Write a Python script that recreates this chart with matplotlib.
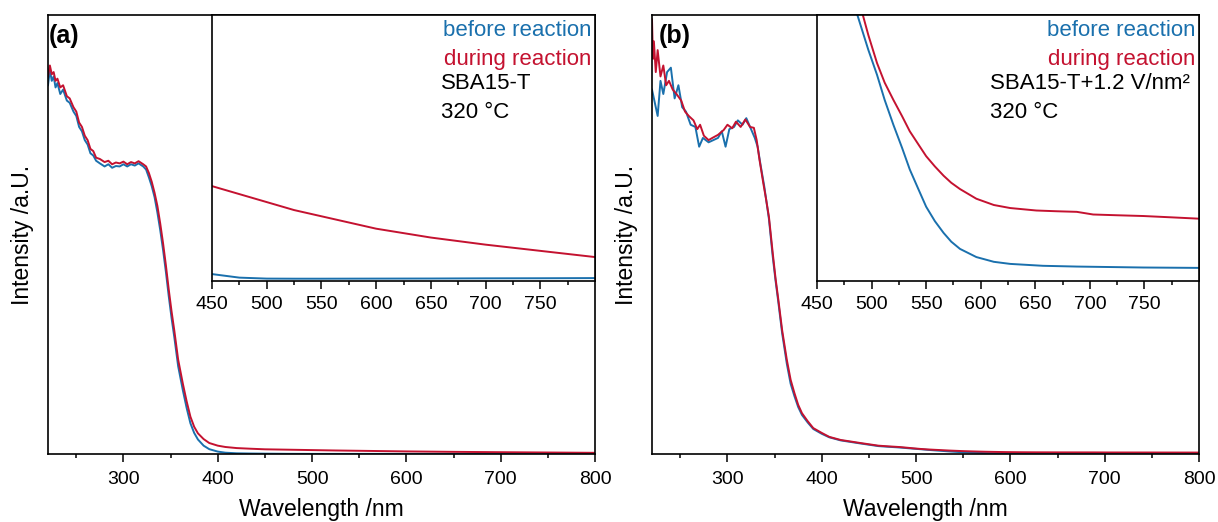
import matplotlib
matplotlib.use("Agg")
import matplotlib.pyplot as plt

plt.rcParams['font.family'] = ['Liberation Sans', 'DejaVu Sans']

# colours of the two spectra
c_before = '#1a70ad'
c_during = '#c41230'

# panel (a): SBA15-T, intensity normalised to the main axis height
wl_a = [220, 222, 224, 226, 228, 230, 233, 236, 240, 243, 247, 250, 253, 256, 259, 262,
        265, 268, 271, 275, 280, 284, 288, 292, 296, 300, 304, 308, 312, 316, 321, 324,
        327, 330, 333, 336, 339, 342, 345, 348, 351, 354, 358, 363, 367, 371, 375, 379,
        385, 391, 400, 408, 420, 435, 450, 475, 500, 525, 550, 600, 650, 700, 750, 800]
a_during = [0.86, 0.885, 0.865, 0.87, 0.85, 0.855, 0.835, 0.84, 0.815, 0.81, 0.79, 0.78,
            0.755, 0.745, 0.725, 0.715, 0.695, 0.69, 0.675, 0.672, 0.665, 0.668, 0.66, 0.664,
            0.662, 0.666, 0.66, 0.665, 0.662, 0.667, 0.66, 0.655, 0.64, 0.62, 0.595, 0.565,
            0.525, 0.48, 0.43, 0.375, 0.325, 0.28, 0.215, 0.16, 0.12, 0.085, 0.062, 0.047,
            0.034, 0.025, 0.019, 0.016, 0.0135, 0.012, 0.0107, 0.0098, 0.0089, 0.0080,
            0.0073, 0.0059, 0.0049, 0.0041, 0.0034, 0.0027]
a_before = [0.84, 0.875, 0.85, 0.86, 0.835, 0.845, 0.82, 0.83, 0.805, 0.80, 0.78, 0.77,
            0.745, 0.735, 0.715, 0.705, 0.685, 0.68, 0.668, 0.662, 0.655, 0.66, 0.652, 0.656,
            0.655, 0.66, 0.655, 0.66, 0.657, 0.662, 0.655, 0.648, 0.63, 0.61, 0.585, 0.55,
            0.51, 0.465, 0.415, 0.36, 0.31, 0.265, 0.20, 0.145, 0.105, 0.07, 0.048, 0.033,
            0.019, 0.011, 0.0055, 0.003, 0.0016, 0.0011, 0.00078, 0.00038, 0.00027, 0.00026,
            0.00026, 0.00027, 0.00028, 0.0003, 0.00031, 0.00033]

# panel (b): SBA15-T+1.2 V/nm2
wl_b_during = [220, 221, 222, 224, 226, 229, 232, 235, 238, 242, 246, 251, 255, 259, 264,
               268, 271, 275, 280, 284, 290, 296, 300, 305, 309, 314, 319, 324, 328, 331,
               334, 338, 341, 344, 348, 351, 354, 358, 363, 367, 371, 375, 379, 385, 391,
               400, 408, 420, 441, 460, 470, 483, 492, 497, 505, 512, 520, 528, 535, 543,
               550, 558, 566, 573, 581, 596, 612, 627, 651, 670, 688, 703, 725, 749, 775, 800]
b_during = [0.99, 0.90, 0.94, 0.87, 0.92, 0.86, 0.885, 0.84, 0.85, 0.83, 0.82, 0.805, 0.78,
            0.77, 0.76, 0.74, 0.75, 0.725, 0.715, 0.72, 0.727, 0.738, 0.75, 0.742, 0.757,
            0.745, 0.762, 0.745, 0.743, 0.715, 0.67, 0.617, 0.58, 0.54, 0.458, 0.40, 0.351,
            0.282, 0.214, 0.169, 0.139, 0.112, 0.093, 0.075, 0.059, 0.048, 0.039, 0.032,
            0.025, 0.019, 0.0175, 0.0158, 0.0140, 0.01295, 0.01147, 0.01044, 0.00953,
            0.00867, 0.00788, 0.00718, 0.00657, 0.00603, 0.00554, 0.00517, 0.00484, 0.00433,
            0.0040, 0.00384, 0.00371, 0.00367, 0.00364, 0.0035, 0.00346, 0.00342, 0.00335,
            0.00328]
wl_b_before = [220, 223, 226, 229, 232, 236, 240, 244, 248, 252, 256, 261, 266, 270, 274,
               280, 285, 290, 294, 298, 302, 307, 311, 316, 320, 325, 329, 332, 335, 339,
               344, 348, 351, 354, 358, 363, 367, 371, 375, 379, 385, 391, 400, 408, 420,
               441, 460, 470, 480, 487, 497, 505, 512, 520, 528, 535, 543, 550, 558, 566,
               573, 581, 596, 612, 627, 657, 688, 749, 800]
b_before = [0.83, 0.80, 0.77, 0.85, 0.82, 0.87, 0.88, 0.81, 0.84, 0.79, 0.78, 0.75, 0.745,
            0.70, 0.72, 0.71, 0.715, 0.72, 0.735, 0.70, 0.74, 0.745, 0.76, 0.75, 0.765, 0.74,
            0.72, 0.70, 0.66, 0.61, 0.535, 0.45, 0.395, 0.345, 0.275, 0.205, 0.16, 0.132,
            0.107, 0.089, 0.072, 0.057, 0.046, 0.038, 0.031, 0.024, 0.018, 0.0165, 0.0152,
            0.0140, 0.01217, 0.01085, 0.00953, 0.00822, 0.0070, 0.00587, 0.00482, 0.00391,
            0.00315, 0.00253, 0.00207, 0.00169, 0.00126, 0.00101, 0.0009, 0.0008, 0.00076,
            0.00071, 0.00069]

main_ticks = [300, 400, 500, 600, 700, 800]
inset_ticks = [450, 500, 550, 600, 650, 700, 750]

W, H = 1218, 522
fig = plt.figure(figsize=(W / 100, H / 100), dpi=100)


def box(l, t, r, b):
    # pixel box -> figure fraction
    return [l / W, 1 - b / H, (r - l) / W, (b - t) / H]


def style(ax, fs, pad):
    for s in ax.spines.values():
        s.set_linewidth(1.2)
    ax.set_yticks([])
    ax.tick_params(axis='x', which='major', direction='out', length=5.5, width=1.1,
                   labelsize=fs, pad=pad)
    ax.tick_params(axis='x', which='minor', direction='out', length=3, width=1.1)


panels = [
    ('(a)', (48, 15, 595, 454), (212, 15, 595, 281), wl_a, a_before, wl_a, a_during,
     0.03, 'SBA15-T', 0.002, 0.597, 34),
    ('(b)', (652, 15, 1199, 454), (817, 15, 1199, 281), wl_b_before, b_before,
     wl_b_during, b_during, 0.014, 'SBA15-T+1.2 V/nm²', 0.012, 0.453, 638),
]

for tag, mbox, ibox, x1, y1, x2, y2, iy, sample, tagx, sx, ylx in panels:
    ax = fig.add_axes(box(*mbox))
    ax.plot(x1, y1, color=c_before, lw=1.4)
    ax.plot(x2, y2, color=c_during, lw=1.4)
    ax.set_xlim(220, 800)
    ax.set_ylim(0, 1)
    ax.set_xticks(main_ticks)
    ax.set_xticks(range(250, 800, 100), minor=True)
    style(ax, 14, 7)
    ax.set_xlabel('Wavelength /nm', fontsize=16.5, labelpad=7)
    ax.set_ylabel('Intensity /a.U.', fontsize=16.5)
    ax.yaxis.set_label_coords((ylx - mbox[0]) / (mbox[2] - mbox[0]), 0.5)
    ax.text(tagx, 0.952, tag, transform=ax.transAxes, fontsize=18, fontweight='bold',
            ha='left', va='center')

    ins = fig.add_axes(box(*ibox))
    ins.plot(x1, y1, color=c_before, lw=1.4)
    ins.plot(x2, y2, color=c_during, lw=1.4)
    ins.set_xlim(450, 800)
    ins.set_ylim(0, iy)
    ins.set_xticks(inset_ticks)
    ins.set_xticks(range(475, 800, 50), minor=True)
    style(ins, 14, 5)
    ins.text(0.991, 0.941, 'before reaction', color=c_before, transform=ins.transAxes,
             fontsize=16, ha='right', va='center')
    ins.text(0.991, 0.831, 'during reaction', color=c_during, transform=ins.transAxes,
             fontsize=16, ha='right', va='center')
    ins.text(sx, 0.744, sample, transform=ins.transAxes, fontsize=16, ha='left', va='center')
    ins.text(sx, 0.635, '320 °C', transform=ins.transAxes, fontsize=16, ha='left', va='center')

fig.savefig('out.png', dpi=100)
